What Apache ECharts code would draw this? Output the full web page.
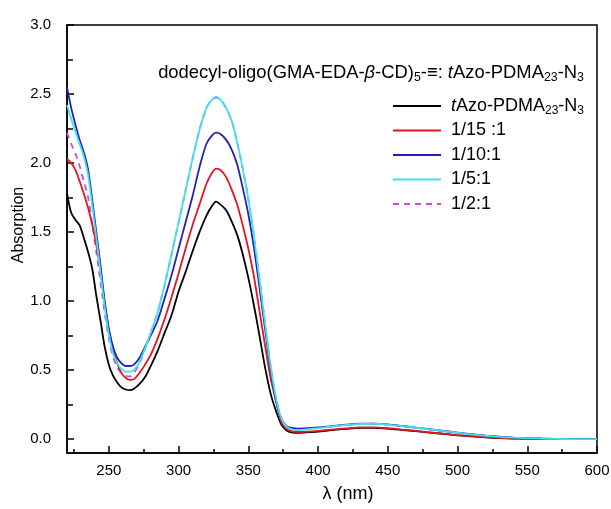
<!DOCTYPE html>
<html>
<head>
<meta charset="utf-8">
<script src="https://cdn.jsdelivr.net/npm/echarts@6/dist/echarts.min.js"></script>
<style>html,body{margin:0;padding:0;background:#fff}#c{width:611px;height:509px}</style>
</head>
<body>
<div id="c"></div>
<script>
const wavelength = [220,223,226,229,232,235,238,241,244,247,250,253,256,259,262,265,268,272,276,280,285,290,295,300,305,310,315,320,324,327,330,334,338,342,346,350,354,358,362,366,370,374,378,382,386,390,400,410,420,430,440,450,460,470,480,490,500,510,520,530,540,550,560,570,580,590,600];

const tAzo = [1.78,1.64,1.59,1.55,1.46,1.36,1.24,1.04,0.86,0.67,0.54,0.46,0.41,0.375,0.36,0.355,0.365,0.40,0.45,0.53,0.64,0.77,0.90,1.07,1.21,1.36,1.50,1.62,1.69,1.72,1.70,1.66,1.58,1.48,1.34,1.17,0.97,0.75,0.52,0.33,0.20,0.10,0.06,0.048,0.046,0.048,0.055,0.066,0.075,0.082,0.082,0.077,0.068,0.058,0.048,0.038,0.028,0.020,0.013,0.008,0.005,0.003,0.002,0.001,0.001,0,0];

const r1_15 = [2.03,2.00,1.95,1.87,1.78,1.68,1.56,1.41,1.22,0.99,0.79,0.65,0.55,0.48,0.445,0.43,0.435,0.48,0.54,0.61,0.73,0.87,1.03,1.20,1.38,1.55,1.70,1.85,1.93,1.96,1.95,1.90,1.81,1.70,1.55,1.38,1.18,0.93,0.68,0.44,0.27,0.12,0.07,0.055,0.052,0.053,0.060,0.070,0.078,0.085,0.086,0.080,0.070,0.060,0.050,0.040,0.030,0.022,0.015,0.009,0.006,0.004,0.002,0.001,0.001,0,0];

const r1_10 = [2.55,2.40,2.28,2.17,2.08,1.96,1.74,1.50,1.26,1.00,0.80,0.67,0.59,0.55,0.53,0.53,0.54,0.59,0.67,0.75,0.86,1.02,1.19,1.38,1.57,1.76,1.97,2.14,2.20,2.22,2.21,2.17,2.10,1.99,1.82,1.63,1.39,1.10,0.80,0.50,0.27,0.14,0.09,0.08,0.077,0.078,0.085,0.095,0.105,0.113,0.113,0.107,0.096,0.084,0.072,0.060,0.048,0.036,0.026,0.018,0.012,0.008,0.005,0.003,0.002,0.001,0];

const r1_5 = [2.42,2.32,2.23,2.14,2.05,1.92,1.70,1.46,1.21,0.96,0.76,0.62,0.55,0.51,0.49,0.49,0.50,0.56,0.66,0.77,0.92,1.12,1.34,1.57,1.80,2.03,2.24,2.40,2.46,2.48,2.46,2.40,2.31,2.15,1.96,1.74,1.47,1.16,0.84,0.53,0.29,0.14,0.085,0.07,0.068,0.07,0.08,0.092,0.103,0.110,0.112,0.106,0.095,0.083,0.071,0.059,0.047,0.035,0.025,0.017,0.011,0.007,0.004,0.002,0.001,0.001,0];

const r1_2 = [2.22,2.14,2.07,1.98,1.87,1.76,1.56,1.36,1.14,0.92,0.73,0.60,0.52,0.48,0.46,0.455,0.48,0.55,0.66,0.77,0.92,1.12,1.34,1.57,1.80,2.03,2.24,2.40,2.46,2.475,2.46,2.40,2.31,2.15,1.96,1.74,1.47,1.16,0.84,0.53,0.29,0.14,0.085,0.07,0.068,0.07,0.08,0.092,0.103,0.110,0.112,0.106,0.095,0.083,0.071,0.059,0.047,0.035,0.025,0.017,0.011,0.007,0.004,0.002,0.001,0.001,0];

const seriesNames = ['tAzo-PDMA23-N3','1/15 :1','1/10:1','1/5:1','1/2:1'];
const xMajorTicks = [250,300,350,400,450,500,550,600];
const xMinorTicks = [225,275,325,375,425,475,525,575];
const yMajorTicks = [0,0.5,1.0,1.5,2.0,2.5,3.0];
const yMinorTicks = [0.25,0.75,1.25,1.75,2.25,2.75];

const FONT = 'Arial, "Liberation Sans", sans-serif';
function pairs(v){ return wavelength.map((w,i)=>[w,v[i]]); }

const chart = echarts.init(document.getElementById('c'));
const specs = [
  {name: seriesNames[0], data: tAzo, color: '#000000', z: 3},
  {name: seriesNames[1], data: r1_15, color: '#e8141c', z: 3},
  {name: seriesNames[2], data: r1_10, color: '#2323b0', z: 3},
  {name: seriesNames[3], data: r1_5, color: '#3fe3ee', z: 3},
  {name: seriesNames[4], data: r1_2, color: '#d048e0', z: 2, dashed: true}
];

const richStyles = {
  i: {fontFamily: FONT, fontSize: 18, fontStyle: 'italic', color: '#000', lineHeight: 22},
  s: {fontFamily: FONT, fontSize: 12, color: '#000', lineHeight: 13, verticalAlign: 'bottom'}
};

chart.setOption({
  animation: false,
  backgroundColor: '#fff',
  title: {
    text: 'dodecyl-oligo(GMA-EDA-{i|β}-CD){s|5}-≡: {i|t}Azo-PDMA{s|23}-N{s|3}',
    right: 22, top: 57,
    textStyle: {
      fontFamily: FONT, fontSize: 18.4, fontWeight: 'normal', color: '#000', lineHeight: 22,
      rich: {
        i: {fontFamily: FONT, fontSize: 18.4, fontStyle: 'italic', color: '#000', lineHeight: 22},
        s: {fontFamily: FONT, fontSize: 12.4, color: '#000', lineHeight: 13, verticalAlign: 'bottom'}
      }
    }
  },
  legend: {
    orient: 'vertical', left: 387, top: 90,
    itemWidth: 48, itemHeight: 14, itemGap: 2.5,
    data: seriesNames,
    itemStyle: {color: 'transparent', borderColor: 'transparent', borderWidth: 0, opacity: 0},
    formatter: function(n){ return n === seriesNames[0] ? '{i|t}Azo-PDMA{s|23}-N{s|3}' : n; },
    textStyle: {
      fontFamily: FONT, fontSize: 18, color: '#000', lineHeight: 22, padding: [0,0,0,5],
      rich: richStyles
    }
  },
  grid: {left: 67, right: 14, top: 25, bottom: 56, outerBoundsMode: 'none', show: true, borderColor: '#000', borderWidth: 1.5, backgroundColor: 'transparent'},
  xAxis: [
    {
      type: 'value', min: 220, max: 600,
      name: 'λ (nm)', nameLocation: 'middle', nameGap: 32, nameMoveOverlap: false,
      nameTextStyle: {fontFamily: FONT, fontSize: 18, color: '#000', padding: [0,0,0,32]},
      axisLine: {show: true, onZero: false, lineStyle: {color: '#000', width: 1.5}},
      axisTick: {show: true, inside: true, length: 7, customValues: xMajorTicks, lineStyle: {color: '#000', width: 1.5}},
      axisLabel: {customValues: xMajorTicks, margin: 10, fontFamily: FONT, fontSize: 15, color: '#000'},
      splitLine: {show: false}
    },
    {
      type: 'value', min: 220, max: 600, position: 'bottom',
      axisLine: {show: false, onZero: false},
      axisTick: {show: true, inside: true, length: 4, customValues: xMinorTicks, lineStyle: {color: '#000', width: 1.5}},
      axisLabel: {show: false},
      splitLine: {show: false}
    }
  ],
  yAxis: [
    {
      type: 'value', min: -0.1, max: 3.0,
      name: 'Absorption', nameLocation: 'middle', nameGap: 40, nameRotate: 90, nameMoveOverlap: false,
      nameTextStyle: {fontFamily: FONT, fontSize: 16, color: '#000', padding: [0,0,0,28]},
      axisLine: {show: true, onZero: false, lineStyle: {color: '#000', width: 1.5}},
      axisTick: {show: true, inside: true, length: 7, customValues: yMajorTicks, lineStyle: {color: '#000', width: 1.5}},
      axisLabel: {customValues: yMajorTicks, margin: 16, fontFamily: FONT, fontSize: 15, color: '#000', formatter: v => v.toFixed(1)},
      splitLine: {show: false}
    },
    {
      type: 'value', min: -0.1, max: 3.0, position: 'left',
      axisLine: {show: false, onZero: false},
      axisTick: {show: true, inside: true, length: 6, customValues: yMinorTicks, lineStyle: {color: '#000', width: 1.5}},
      axisLabel: {show: false},
      splitLine: {show: false}
    }
  ],
  series: specs.map(s => ({
    name: s.name, type: 'line', data: pairs(s.data), xAxisIndex: 0, yAxisIndex: 0,
    showSymbol: false, symbol: 'none', smooth: 0.3, z: s.z,
    color: s.color,
    lineStyle: {color: s.color, width: 1.8, type: s.dashed ? [6,5] : 'solid'}
  }))
});
</script>
</body>
</html>
